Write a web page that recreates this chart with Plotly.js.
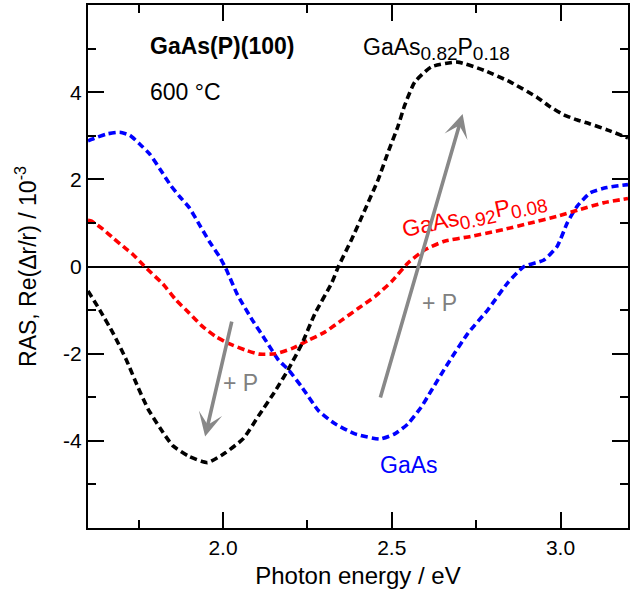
<!DOCTYPE html>
<html>
<head>
<meta charset="utf-8">
<script src="https://cdn.plot.ly/plotly-3.0.1.min.js"></script>
<style>html,body{margin:0;padding:0;background:#fff;}#plot{width:632px;height:594px;}</style>
</head>
<body>
<div id="plot"></div>
<script>
// GaAs0.82P0.18 (black)
var xP18 = [1.600,1.635,1.675,1.714,1.748,1.778,1.812,1.851,1.900,1.954,2.008,2.060,2.106,2.156,2.195,2.234,2.273,2.322,2.342,2.381,2.421,2.460,2.489,2.519,2.538,2.568,2.617,2.695,2.774,2.852,2.931,2.970,3.010,3.050,3.088,3.140,3.200];
var yP18 = [-0.56,-1.00,-1.54,-2.15,-2.77,-3.27,-3.69,-4.11,-4.36,-4.50,-4.27,-3.95,-3.42,-2.84,-2.34,-1.77,-1.07,-0.38,0.00,0.62,1.31,2.00,2.62,3.23,3.69,4.23,4.58,4.69,4.50,4.23,3.88,3.66,3.48,3.36,3.27,3.13,2.95];
// GaAs (blue)
var xGaAs = [1.600,1.611,1.655,1.694,1.724,1.753,1.783,1.817,1.846,1.871,1.900,1.930,1.959,1.989,2.008,2.043,2.087,2.126,2.165,2.195,2.234,2.283,2.332,2.391,2.465,2.509,2.548,2.587,2.617,2.666,2.725,2.784,2.843,2.892,2.951,2.990,3.020,3.049,3.088,3.137,3.200];
var yGaAs = [2.88,2.92,3.04,3.08,3.01,2.81,2.58,2.19,1.85,1.61,1.35,0.96,0.58,0.23,-0.04,-0.65,-1.23,-1.69,-2.15,-2.38,-2.77,-3.31,-3.61,-3.84,-3.96,-3.84,-3.61,-3.23,-2.85,-2.23,-1.54,-1.00,-0.38,0.00,0.15,0.46,1.00,1.38,1.69,1.81,1.88];
// GaAs0.92P0.08 (red)
var xP08 = [1.600,1.611,1.645,1.675,1.704,1.734,1.763,1.788,1.822,1.861,1.900,1.940,1.979,2.018,2.067,2.106,2.156,2.205,2.254,2.303,2.352,2.401,2.450,2.499,2.548,2.597,2.656,2.734,2.803,2.833,2.911,2.990,3.058,3.127,3.200];
var yP08 = [1.06,1.04,0.85,0.65,0.46,0.27,0.04,-0.15,-0.40,-0.77,-1.07,-1.38,-1.61,-1.77,-1.92,-2.01,-2.00,-1.88,-1.69,-1.50,-1.23,-0.96,-0.69,-0.35,0.08,0.38,0.58,0.69,0.80,0.85,1.00,1.15,1.31,1.46,1.56];

var xTickVals = [2.0, 2.5, 3.0];
var xTickText = ["2.0", "2.5", "3.0"];
var yTickVals = [-4, -2, 0, 2, 4];
var yTickText = ["-4", "-2", "0", "2", "4"];

var FONT = "Liberation Sans, Arial, sans-serif";
var DASH = "7px,4px";

function trace(x, y, color) {
  return {x: x, y: y, type: "scatter", mode: "lines",
    line: {color: color, width: 3.6, dash: DASH, shape: "spline", smoothing: 0.5},
    hoverinfo: "skip", showlegend: false};
}

var data = [trace(xGaAs, yGaAs, "#0000ff"), trace(xP08, yP08, "#ff0000"), trace(xP18, yP18, "#000000")];

var axisCommon = {
  showgrid: false, showline: true, linecolor: "#000", linewidth: 2,
  mirror: "allticks", ticks: "inside", ticklen: 16, tickwidth: 2, tickcolor: "#000",
  tickfont: {family: FONT, size: 21, color: "#000"},
  minor: {ticks: "inside", ticklen: 8, tickwidth: 2, tickcolor: "#000", showgrid: false}
};

function sub(t) { return "<sub><span style=\"font-size:19px\">" + t + "</span></sub>"; }

var layout = {
  width: 632, height: 594,
  margin: {l: 88, r: 4, t: 5, b: 66},
  paper_bgcolor: "#fff", plot_bgcolor: "#fff",
  font: {family: FONT, color: "#000"},
  xaxis: Object.assign({}, axisCommon, {
    range: [1.6, 3.2], tickmode: "array", tickvals: xTickVals, ticktext: xTickText,
    zeroline: false,
    minor: Object.assign({}, axisCommon.minor, {dtick: 0.25, tick0: 1.75}),
    title: {text: "Photon energy / eV", font: {family: FONT, size: 24, color: "#000"}, standoff: 9}
  }),
  yaxis: Object.assign({}, axisCommon, {
    range: [-6, 6], tickmode: "array", tickvals: yTickVals, ticktext: yTickText,
    zeroline: true, zerolinecolor: "#000", zerolinewidth: 2,
    minor: Object.assign({}, axisCommon.minor, {dtick: 1, tick0: 1}),
    title: {text: "\u00a0\u00a0\u00a0RAS, Re(\u0394r/r) / 10<sup>-3</sup>", font: {family: FONT, size: 23, color: "#000"}, standoff: 20}
  }),
  annotations: [
    {x: 1.777, y: 5.07, xref: "x", yref: "y", text: "<b>GaAs(P)(100)</b>", showarrow: false, xanchor: "left", yanchor: "middle", font: {family: FONT, size: 23, color: "#000"}},
    {x: 1.777, y: 4.01, xref: "x", yref: "y", text: "600 \u00b0C", showarrow: false, xanchor: "left", yanchor: "middle", font: {family: FONT, size: 23, color: "#000"}},
    {x: 2.41, y: 5.0, xref: "x", yref: "y", text: "GaAs" + sub("0.82") + "P" + sub("0.18"), showarrow: false, xanchor: "left", yanchor: "middle", font: {family: FONT, size: 23, color: "#000"}},
    {x: 2.745, y: 1.17, xref: "x", yref: "y", text: "GaAs" + sub("0.92") + "P" + sub("0.08"), showarrow: false, textangle: -12, xanchor: "center", yanchor: "middle", font: {family: FONT, size: 23, color: "#ff0000"}},
    {x: 2.551, y: -4.55, xref: "x", yref: "y", text: "GaAs", showarrow: false, xanchor: "center", yanchor: "middle", font: {family: FONT, size: 23, color: "#0000ff"}},
    {x: 2.053, y: -2.68, xref: "x", yref: "y", text: "+ P", showarrow: false, xanchor: "center", yanchor: "middle", font: {family: FONT, size: 23, color: "#808080"}},
    {x: 2.64, y: -0.84, xref: "x", yref: "y", text: "+ P", showarrow: false, xanchor: "center", yanchor: "middle", font: {family: FONT, size: 23, color: "#808080"}},
    {x: 1.947, y: -3.9, ax: 2.027, ay: -1.23, xref: "x", yref: "y", axref: "x", ayref: "y", text: "", showarrow: true, arrowhead: 3, arrowsize: 1.1, arrowwidth: 3.6, arrowcolor: "#888888"},
    {x: 2.71, y: 3.5, ax: 2.465, ay: -3.04, xref: "x", yref: "y", axref: "x", ayref: "y", text: "", showarrow: true, arrowhead: 3, arrowsize: 1.1, arrowwidth: 3.6, arrowcolor: "#888888"}
  ]
};

Plotly.newPlot("plot", data, layout, {displayModeBar: false, staticPlot: true});
</script>
</body>
</html>
